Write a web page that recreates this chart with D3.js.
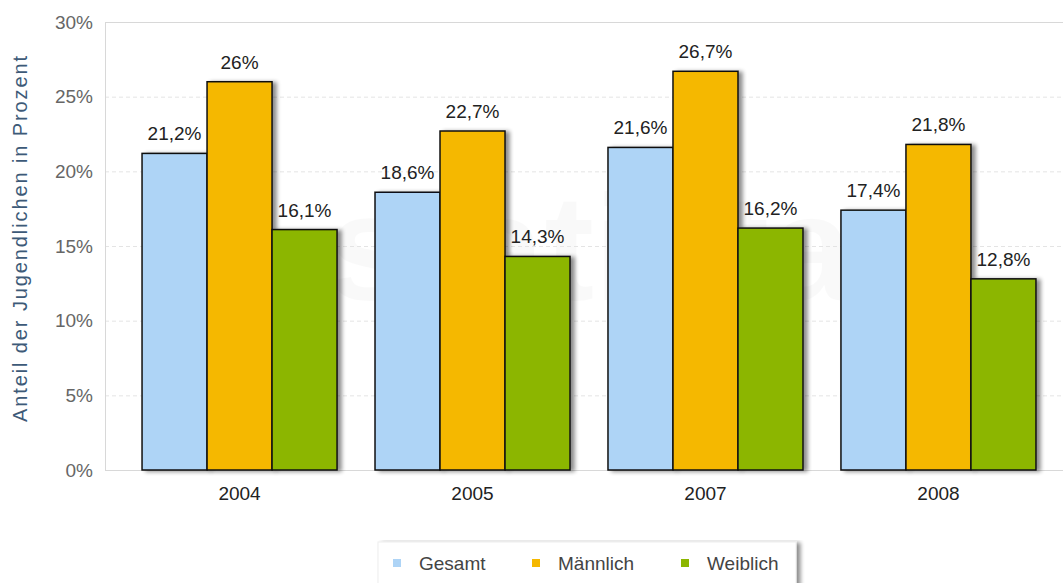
<!DOCTYPE html>
<html>
<head>
<meta charset="utf-8">
<script src="https://cdn.jsdelivr.net/npm/d3@7/dist/d3.min.js"></script>
<style>
  body { margin: 0; background: #fff; }
  svg { font-family: Arial, "Liberation Sans", sans-serif; }
</style>
</head>
<body>
<svg id="chart" width="1063" height="583"></svg>
<script>
var years = ["2004", "2005", "2007", "2008"];
var seriesNames = ["Gesamt", "Männlich", "Weiblich"];
var gesamt = [21.2, 18.6, 21.6, 17.4];
var maennlich = [26, 22.7, 26.7, 21.8];
var weiblich = [16.1, 14.3, 16.2, 12.8];
var yTicks = [0, 5, 10, 15, 20, 25, 30];
var colors = ["#aed4f6", "#f5b800", "#8cb600"];

var series = [gesamt, maennlich, weiblich];
var svg = d3.select("#chart");
var fmt = function(v) { return String(v).replace(".", ","); };

var plotLeft = 105, plotTop = 22, plotBottom = 470;

var y = d3.scaleLinear().domain([0, 30]).range([plotBottom, plotTop]);
var x0 = d3.scaleBand().domain(years).range([105, 1073])
  .paddingInner(0.163).paddingOuter(0.159);
var x1 = d3.scaleBand().domain(seriesNames).range([0, x0.bandwidth()]);

var defs = svg.append("defs");
var f = defs.append("filter").attr("id", "shadow")
  .attr("x", "-20%").attr("y", "-5%").attr("width", "150%").attr("height", "110%");
f.append("feGaussianBlur").attr("in", "SourceAlpha").attr("stdDeviation", 2).attr("result", "b");
f.append("feOffset").attr("in", "b").attr("dx", 4).attr("dy", 1).attr("result", "o");
f.append("feComponentTransfer").attr("in", "o").attr("result", "s")
  .append("feFuncA").attr("type", "linear").attr("slope", 0.45);
var m = f.append("feMerge");
m.append("feMergeNode").attr("in", "s");
m.append("feMergeNode").attr("in", "SourceGraphic");

// watermark
svg.append("text").attr("x", 590).attr("y", 300).attr("text-anchor", "middle")
  .attr("font-size", 150).attr("font-weight", "bold").attr("fill", "#000").attr("opacity", 0.02)
  .text("statista");

// grid
svg.append("g").selectAll("line").data(yTicks.filter(function(d) { return d > 0; }))
  .enter().append("line")
  .attr("x1", plotLeft).attr("x2", 1063)
  .attr("y1", function(d) { return y(d) + 0.5; }).attr("y2", function(d) { return y(d) + 0.5; })
  .attr("stroke", function(d) { return d === 30 ? "#d8d8d8" : "#e4e4e4"; })
  .attr("stroke-dasharray", function(d) { return d === 30 ? null : "4,3"; });

svg.append("line").attr("x1", plotLeft + 0.5).attr("x2", plotLeft + 0.5)
  .attr("y1", plotTop).attr("y2", plotBottom).attr("stroke", "#d8d8d8");
svg.append("line").attr("x1", plotLeft).attr("x2", 1063)
  .attr("y1", plotBottom + 0.5).attr("y2", plotBottom + 0.5).attr("stroke", "#d8d8d8");

// y axis
var yAxis = svg.append("g").attr("transform", "translate(" + plotLeft + ",0)")
  .call(d3.axisLeft(y).tickValues(yTicks).tickSize(0).tickPadding(12)
    .tickFormat(function(d) { return d + "%"; }));
yAxis.select(".domain").remove();
yAxis.selectAll("text").attr("font-size", 19).attr("fill", "#666")
  .attr("font-family", "Arial, 'Liberation Sans', sans-serif");

svg.append("text")
  .attr("transform", "translate(27,239) rotate(-90)")
  .attr("text-anchor", "middle").attr("font-size", 20).attr("fill", "#3d5a78")
  .attr("textLength", 366).attr("lengthAdjust", "spacing")
  .text("Anteil der Jugendlichen in Prozent");

// bars
var groups = svg.append("g").selectAll("g").data(years).enter().append("g")
  .attr("transform", function(d) { return "translate(" + x0(d) + ",0)"; });

function rows(d, i) {
  return seriesNames.map(function(s, j) { return { s: s, j: j, v: series[j][i] }; });
}

groups.selectAll("rect").data(rows)
  .enter().append("rect")
  .attr("x", function(d) { return x1(d.s); })
  .attr("y", function(d) { return y(d.v); })
  .attr("width", x1.bandwidth())
  .attr("height", function(d) { return plotBottom - y(d.v); })
  .attr("fill", function(d) { return colors[d.j]; })
  .attr("stroke", "#111").attr("stroke-width", 1.5)
  .attr("filter", "url(#shadow)");

groups.selectAll("text.val").data(rows)
  .enter().append("text").attr("class", "val")
  .attr("x", function(d) { return x1(d.s) + x1.bandwidth() / 2; })
  .attr("y", function(d) { return y(d.v) - 13; })
  .attr("text-anchor", "middle").attr("font-size", 19).attr("fill", "#222")
  .text(function(d) { return fmt(d.v) + "%"; });

// x labels
svg.append("g").selectAll("text").data(years).enter().append("text")
  .attr("x", function(d) { return x0(d) + x0.bandwidth() / 2; })
  .attr("y", 500).attr("text-anchor", "middle").attr("font-size", 19).attr("fill", "#222")
  .text(function(d) { return d; });

// legend
var lg = svg.append("g");
lg.append("rect").attr("x", 378).attr("y", 542).attr("width", 418).attr("height", 45)
  .attr("fill", "#fff").attr("stroke", "#eee").attr("filter", "url(#shadow)");
var legX = [393, 532, 681];
seriesNames.forEach(function(s, i) {
  lg.append("rect").attr("x", legX[i]).attr("y", 559).attr("width", 8).attr("height", 8)
    .attr("fill", colors[i]);
  lg.append("text").attr("x", legX[i] + 26).attr("y", 570).attr("font-size", 19).attr("fill", "#444")
    .text(s);
});
</script>
</body>
</html>
